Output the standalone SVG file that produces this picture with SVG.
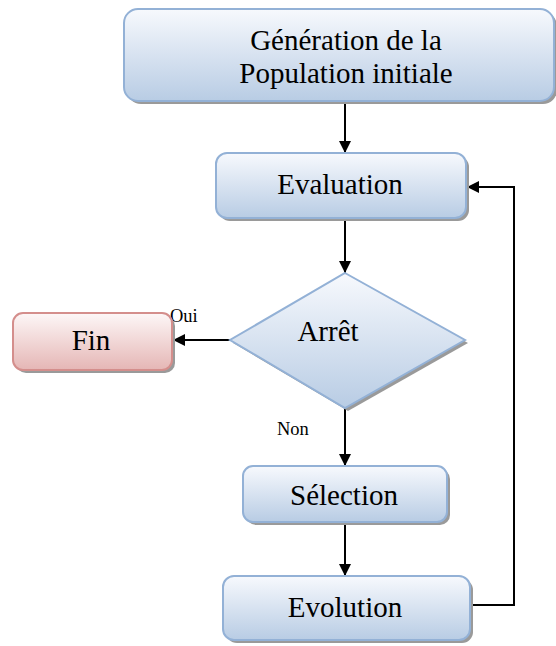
<svg xmlns="http://www.w3.org/2000/svg" width="556" height="646" viewBox="0 0 556 646">
  <defs>
    <linearGradient id="gBlue" x1="0" y1="0" x2="0" y2="1">
      <stop offset="0" stop-color="#f7f9fd"/>
      <stop offset="1" stop-color="#b8cce4"/>
    </linearGradient>
    <linearGradient id="gRed" x1="0" y1="0" x2="0" y2="1">
      <stop offset="0" stop-color="#fdf7f7"/>
      <stop offset="1" stop-color="#e5b6b5"/>
    </linearGradient>
    <marker id="arrow" viewBox="0 0 12 12" refX="12" refY="6" markerWidth="12" markerHeight="12" markerUnits="userSpaceOnUse" orient="auto">
      <path d="M0,0 L12,6 L0,12 Z" fill="#000"/>
    </marker>
  </defs>
  <style>
    .shadow { fill: #9a9a9a; }
    .blue { fill: url(#gBlue); stroke: #93b1d6; stroke-width: 2; }
    .red { fill: url(#gRed); stroke: #d48e8c; stroke-width: 2; }
    .label { font-family: "Liberation Serif", "Times New Roman", serif; font-size: 29px; fill: #000; text-anchor: middle; }
    .small { font-family: "Liberation Serif", "Times New Roman", serif; font-size: 18.5px; fill: #000; }
    .conn { fill: none; stroke: #000; stroke-width: 2; }
  </style>

  <rect width="556" height="646" fill="#fff"/>

  <!-- connectors -->
  <g id="connectors">
    <line class="conn" x1="345" y1="101" x2="345" y2="153" marker-end="url(#arrow)"/>
    <line class="conn" x1="345" y1="218" x2="345" y2="273" marker-end="url(#arrow)"/>
    <line class="conn" x1="230" y1="340" x2="173" y2="340" marker-end="url(#arrow)"/>
    <line class="conn" x1="345" y1="408" x2="345" y2="466" marker-end="url(#arrow)"/>
    <line class="conn" x1="345" y1="522" x2="345" y2="576" marker-end="url(#arrow)"/>
    <polyline class="conn" points="470,605 514,605 514,187 467,187" marker-end="url(#arrow)"/>
    <text class="small" x="170" y="322">Oui</text>
    <text class="small" x="277" y="435">Non</text>
  </g>

  <g id="init">
    <rect class="shadow" x="127" y="12" width="430" height="92" rx="14"/>
    <rect class="blue" x="124" y="9" width="430" height="92" rx="14"/>
    <text class="label" x="346" y="50">Génération de la</text>
    <text class="label" x="346" y="83">Population initiale</text>
  </g>

  <g id="evaluation">
    <rect class="shadow" x="219" y="156" width="250" height="65" rx="11"/>
    <rect class="blue" x="216" y="153" width="250" height="65" rx="11"/>
    <text class="label" x="340" y="194">Evaluation</text>
  </g>

  <g id="arret">
    <polygon class="shadow" points="348,276 468,343 348,411 233,343"/>
    <polygon class="blue" points="345,273 465,340 345,408 230,340"/>
    <text class="label" x="328" y="341">Arrêt</text>
  </g>

  <g id="fin">
    <rect class="shadow" x="16" y="316" width="159" height="57" rx="10"/>
    <rect class="red" x="13" y="313" width="159" height="57" rx="10"/>
    <text class="label" x="91" y="350">Fin</text>
  </g>

  <g id="selection">
    <rect class="shadow" x="246" y="469" width="204" height="56" rx="10"/>
    <rect class="blue" x="243" y="466" width="204" height="56" rx="10"/>
    <text class="label" x="344" y="505">Sélection</text>
  </g>

  <g id="evolution">
    <rect class="shadow" x="226" y="579" width="247" height="64" rx="11"/>
    <rect class="blue" x="223" y="576" width="247" height="64" rx="11"/>
    <text class="label" x="345" y="617">Evolution</text>
  </g>
</svg>
